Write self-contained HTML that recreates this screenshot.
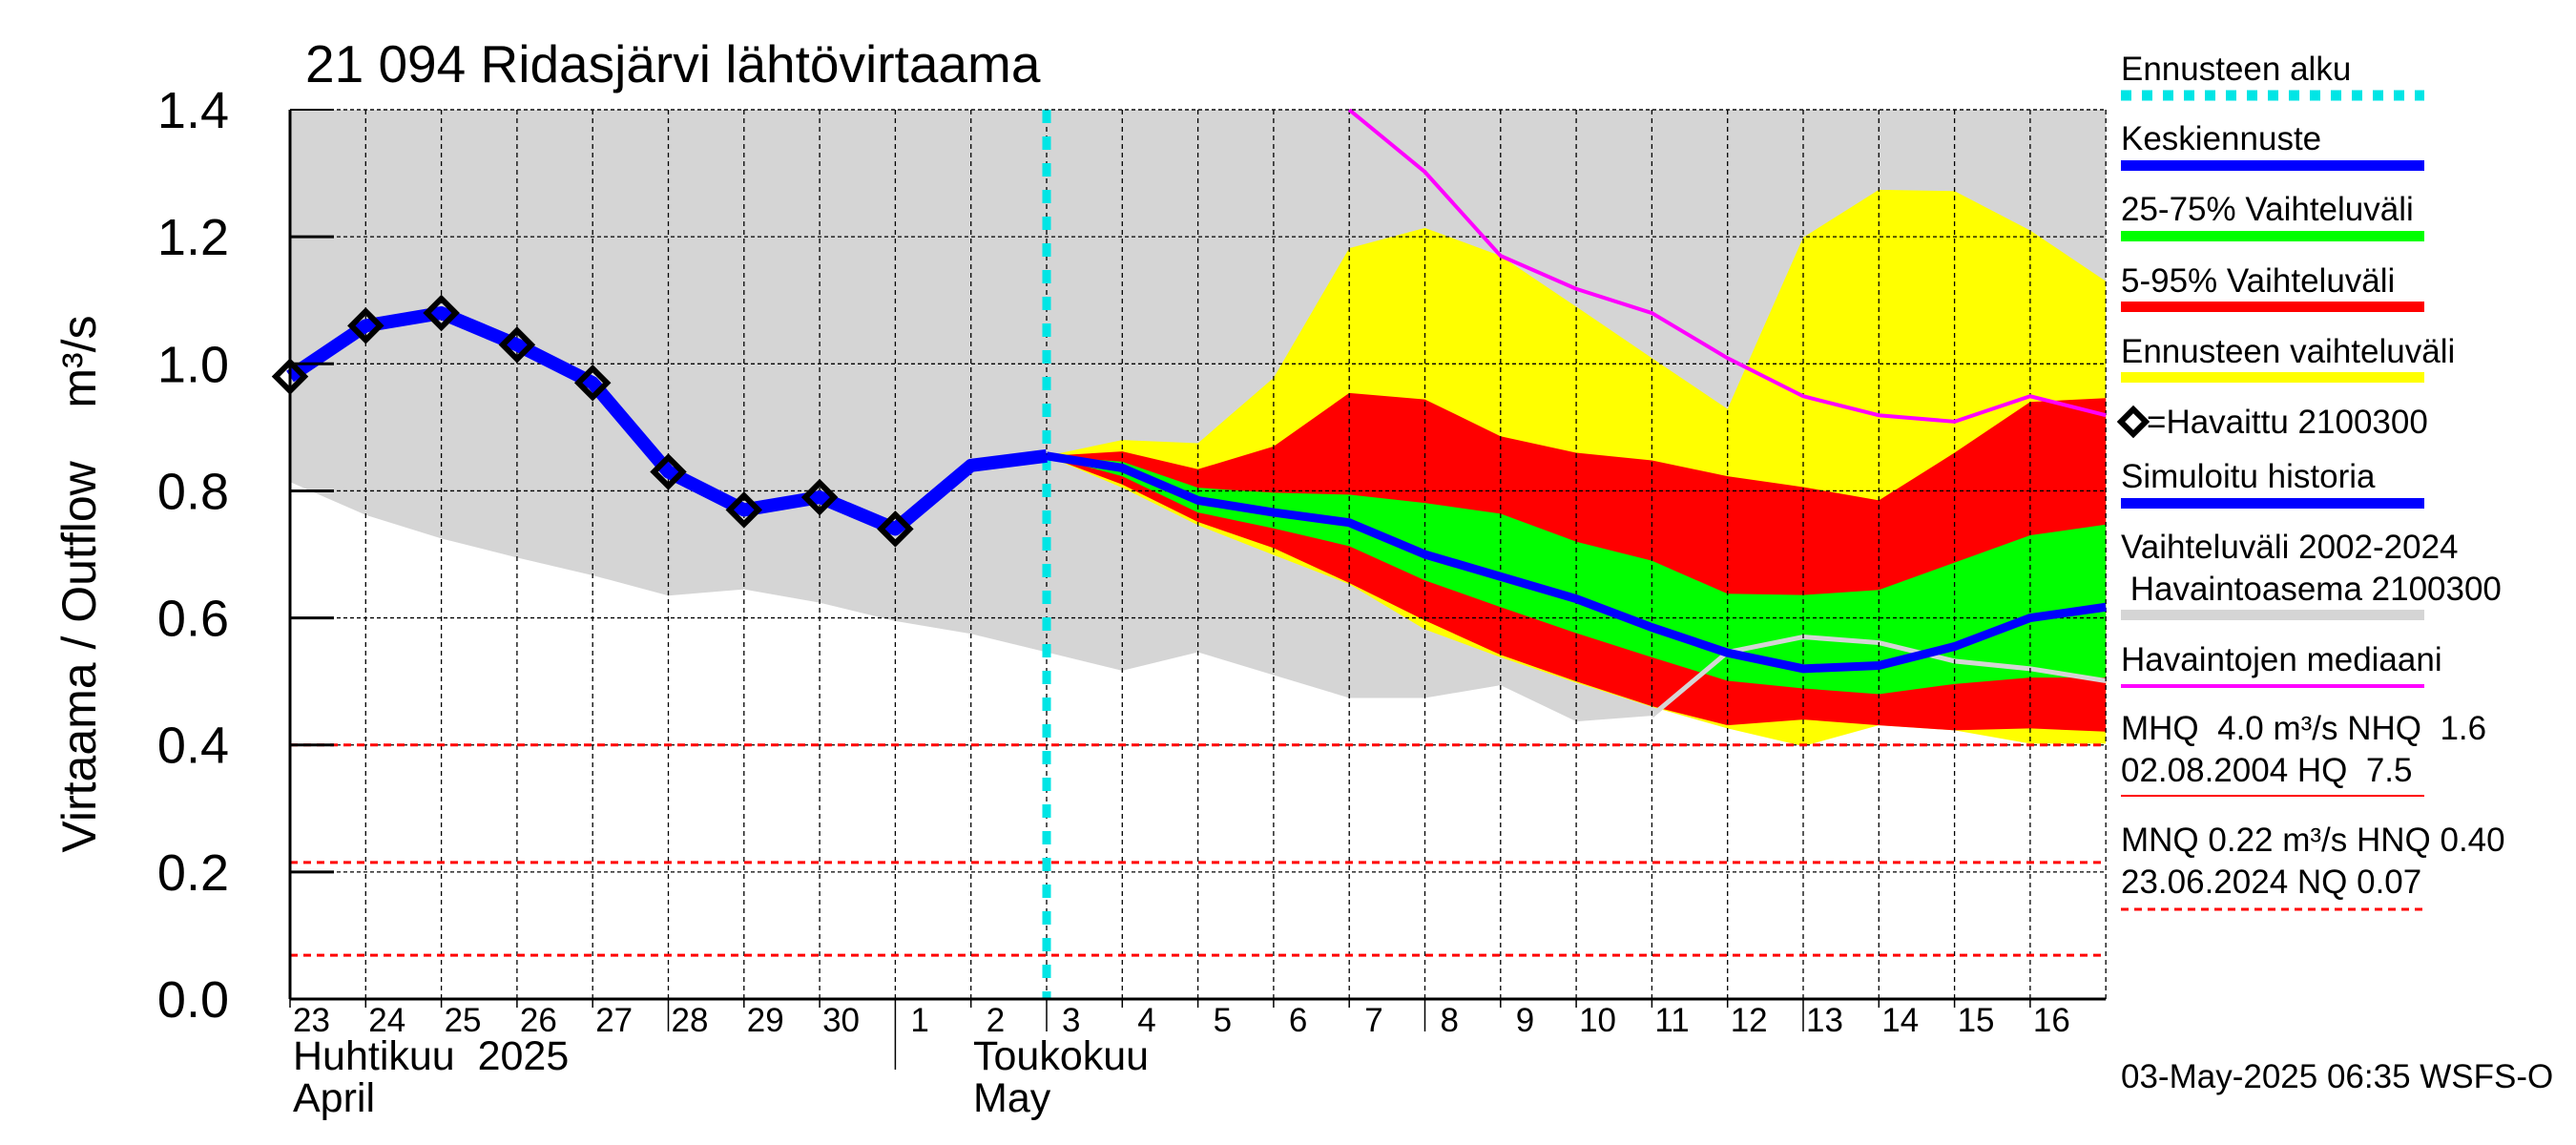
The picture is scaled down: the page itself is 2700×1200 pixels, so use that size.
<!DOCTYPE html>
<html><head><meta charset="utf-8"><style>
html,body{margin:0;padding:0;background:#fff;}
svg{display:block;font-family:"Liberation Sans",sans-serif;}
text{white-space:pre;}
</style></head><body>
<svg id="chart" width="2700" height="1200" viewBox="0 0 2700 1200" xmlns="http://www.w3.org/2000/svg">
<g id="plot"></g>
</svg>
<script>
// ---- data ----
const dayLabels = ["23","24","25","26","27","28","29","30","1","2","3","4","5","6","7","8","9","10","11","12","13","14","15","16"];
const yTicks = [0,0.2,0.4,0.6,0.8,1.0,1.2,1.4];
const yTickLabels = ["0.0","0.2","0.4","0.6","0.8","1.0","1.2","1.4"];
const observed = [0.98,1.06,1.08,1.03,0.97,0.83,0.77,0.79,0.74];
const simulated = [0.98,1.06,1.08,1.03,0.97,0.83,0.77,0.79,0.74,0.84,0.855];
const histLower = [0.814,0.762,0.725,0.695,0.667,0.635,0.645,0.624,0.595,0.575,0.546,0.517,0.546,0.51,0.474,0.474,0.494,0.437,0.446,0.546,0.570,0.561,0.532,0.520,0.501];
const histUpper = [1.5,1.5,1.5,1.5,1.5,1.5,1.5,1.5,1.5,1.5,1.5,1.5,1.5,1.5,1.5,1.5,1.5,1.5,1.5,1.5,1.5,1.5,1.5,1.5,1.5];
const fcStart = 10;
const yelU = [0.855,0.88,0.875,0.978,1.182,1.214,1.170,1.090,1.009,0.929,1.199,1.274,1.272,1.210,1.130];
const redU = [0.855,0.862,0.834,0.870,0.954,0.944,0.886,0.860,0.848,0.823,0.806,0.785,0.860,0.940,0.946];
const grnU = [0.855,0.846,0.805,0.797,0.794,0.781,0.764,0.720,0.690,0.638,0.636,0.644,0.687,0.730,0.747];
const meanFc = [0.855,0.836,0.785,0.766,0.75,0.70,0.665,0.63,0.585,0.545,0.52,0.525,0.555,0.60,0.617];
const grnL = [0.855,0.823,0.766,0.741,0.713,0.659,0.617,0.576,0.538,0.501,0.489,0.480,0.496,0.506,0.506];
const redL = [0.855,0.81,0.751,0.710,0.655,0.596,0.542,0.500,0.461,0.431,0.440,0.431,0.423,0.426,0.421];
const yelL = [0.855,0.805,0.746,0.699,0.653,0.582,0.538,0.498,0.460,0.426,0.398,0.431,0.423,0.402,0.402];
const medianDays = [14,15,16,17,18,19,20,21,22,23,24];
const medianVals = [1.43,1.302,1.170,1.118,1.080,1.009,0.949,0.919,0.909,0.949,0.919];
const refLines = [0.40,0.215,0.069];
// ---- axes ----
const X0=304, DX=79.3, Y0=1047, SY=665.7, NDAYS=24;
const xs = d => X0 + d*DX;
const ys = v => Y0 - Math.min(v,1.4)*SY;
const NS="http://www.w3.org/2000/svg";
const plot=document.getElementById('plot');
function mk(tag, attrs, parent){const e=document.createElementNS(NS,tag);for(const k in attrs)e.setAttribute(k,attrs[k]);(parent||plot).appendChild(e);return e;}
function band(up, lo, start){let p=[];for(let i=0;i<up.length;i++)p.push(xs(start+i)+','+ys(up[i]));for(let i=lo.length-1;i>=0;i--)p.push(xs(start+i)+','+ys(lo[i]));return p.join(' ');}
function line(vals,start){return vals.map((v,i)=>xs(start+i)+','+ys(v)).join(' ');}

let e;
e=mk('polygon',{points:band(histUpper,histLower,0),fill:'#d5d5d5'});


e=mk('polygon',{points:band(yelU,yelL,fcStart),fill:'#ffff00'});


e=mk('polygon',{points:band(redU,redL,fcStart),fill:'#ff0000'});


e=mk('polygon',{points:band(grnU,grnL,fcStart),fill:'#00ff00'});


e=mk('polyline',{points:line(histLower.slice(18),18),fill:'none',stroke:'#d5d5d5','stroke-width':5});


mk('rect',{x:X0-2,y:0,width:2000,height:ys(1.4),fill:'#fff'});
for(let i=1;i<yTicks.length;i++){e=mk('line',{x1:X0,x2:xs(NDAYS),y1:ys(yTicks[i]),y2:ys(yTicks[i]),stroke:'#000','stroke-width':1.3,'stroke-dasharray':'4 3'});

}
for(let d=1;d<=NDAYS;d++){e=mk('line',{x1:xs(d),x2:xs(d),y1:ys(1.4),y2:Y0,stroke:'#000','stroke-width':1.3,'stroke-dasharray':'5 4'});

}
refLines.forEach(v=>{e=mk('line',{x1:X0,x2:xs(NDAYS),y1:ys(v),y2:ys(v),stroke:'#ff0000','stroke-width':3,'stroke-dasharray':'8 6'});

});
e=mk('polyline',{points:medianDays.map((d,i)=>xs(d)+','+ys(medianVals[i])).join(' '),fill:'none',stroke:'#ff00ff','stroke-width':4});


mk('rect',{x:X0+200,y:0,width:2000,height:ys(1.4)-1,fill:'#fff'});
e=mk('line',{x1:xs(fcStart),x2:xs(fcStart),y1:ys(1.4),y2:Y0,stroke:'#00e5e5','stroke-width':9,'stroke-dasharray':'14 14'});


e=mk('polyline',{points:line(simulated,0),fill:'none',stroke:'#0000ff','stroke-width':14,'stroke-linejoin':'round'});


e=mk('polyline',{points:line(meanFc,fcStart),fill:'none',stroke:'#0000ff','stroke-width':9,'stroke-linejoin':'round'});


observed.forEach((v,i)=>{const cx=xs(i),cy=ys(v),r=15;
e=mk('polygon',{points:`${cx},${cy-r} ${cx+r},${cy} ${cx},${cy+r} ${cx-r},${cy}`,fill:'none',stroke:'#000','stroke-width':6});

});
mk('line',{x1:X0,x2:X0,y1:ys(1.4),y2:Y0,stroke:'#000','stroke-width':3});
mk('line',{x1:X0,x2:xs(NDAYS),y1:Y0,y2:Y0,stroke:'#000','stroke-width':3});
mk('line',{x1:X0,x2:xs(NDAYS),y1:ys(1.4),y2:ys(1.4),stroke:'#000','stroke-width':1.3,'stroke-dasharray':'4 3'});
mk('line',{x1:X0,x2:X0+46,y1:ys(1.4),y2:ys(1.4),stroke:'#000','stroke-width':2});
yTicks.forEach((v,i)=>{
 if(i>0&&i<yTicks.length-1) mk('line',{x1:X0,x2:X0+46,y1:ys(v),y2:ys(v),stroke:'#000','stroke-width':3});
 e=mk('text',{x:240,y:ys(v)+19,'text-anchor':'end','font-size':54});e.textContent=yTickLabels[i];
 
 
});
dayLabels.forEach((t,d)=>{
 const long = (d===8)?1121:(d%5===0 && d>0 ? 1081 : 1056);
 mk('line',{x1:xs(d),x2:xs(d),y1:Y0,y2:long,stroke:'#000','stroke-width':1.5});
 e=mk('text',{x:xs(d)+(t.length>1?3:16),y:1081,'font-size':35});e.textContent=t;
 
 
});
</script>
<svg style="position:absolute;left:0;top:0" width="2700" height="1200">
<g font-family="Liberation Sans, sans-serif" style="white-space:pre">
<text x="320" y="86" font-size="55">21 094 Ridasjärvi lähtövirtaama</text>
<text transform="translate(100,612) rotate(-90)" text-anchor="middle" font-size="50">Virtaama / Outflow    m³/s</text>
<text x="307" y="1121" font-size="43">Huhtikuu  2025</text>
<text x="307" y="1165" font-size="43">April</text>
<text x="1020" y="1121" font-size="43">Toukokuu</text>
<text x="1020" y="1165" font-size="43">May</text>
<g font-size="35">
<text x="2223" y="84">Ennusteen alku</text>
<line x1="2223" x2="2541" y1="100" y2="100" stroke="#00e5e5" stroke-width="11" stroke-dasharray="11 11"/>
<text x="2223" y="157">Keskiennuste</text>
<rect x="2223" y="168" width="318" height="11" fill="#0000ff"/>
<text x="2223" y="231">25-75% Vaihteluväli</text>
<rect x="2223" y="242" width="318" height="11" fill="#00ff00"/>
<text x="2223" y="306">5-95% Vaihteluväli</text>
<rect x="2223" y="316" width="318" height="11" fill="#ff0000"/>
<text x="2223" y="380">Ennusteen vaihteluväli</text>
<rect x="2223" y="390" width="318" height="11" fill="#ffff00"/>
<polygon points="2236,429 2249,442 2236,455 2223,442" fill="none" stroke="#000" stroke-width="6"/>
<text x="2250" y="454">=Havaittu 2100300</text>
<text x="2223" y="511">Simuloitu historia</text>
<rect x="2223" y="522" width="318" height="11" fill="#0000ff"/>
<text x="2223" y="585">Vaihteluväli 2002-2024</text>
<text x="2223" y="629"> Havaintoasema 2100300</text>
<rect x="2223" y="639" width="318" height="11" fill="#d5d5d5"/>
<text x="2223" y="703">Havaintojen mediaani</text>
<rect x="2223" y="717" width="318" height="4" fill="#ff00ff"/>
<text x="2223" y="775">MHQ  4.0 m³/s NHQ  1.6</text>
<text x="2223" y="819">02.08.2004 HQ  7.5</text>
<rect x="2223" y="833" width="318" height="2" fill="#ff0000"/>
<text x="2223" y="892">MNQ 0.22 m³/s HNQ 0.40</text>
<text x="2223" y="936">23.06.2024 NQ 0.07</text>
<line x1="2223" x2="2541" y1="953" y2="953" stroke="#ff0000" stroke-width="3" stroke-dasharray="8 6"/>
</g>
<text x="2223" y="1140" font-size="35">03-May-2025 06:35 WSFS-O</text>
</g>
</svg>
</body></html>
